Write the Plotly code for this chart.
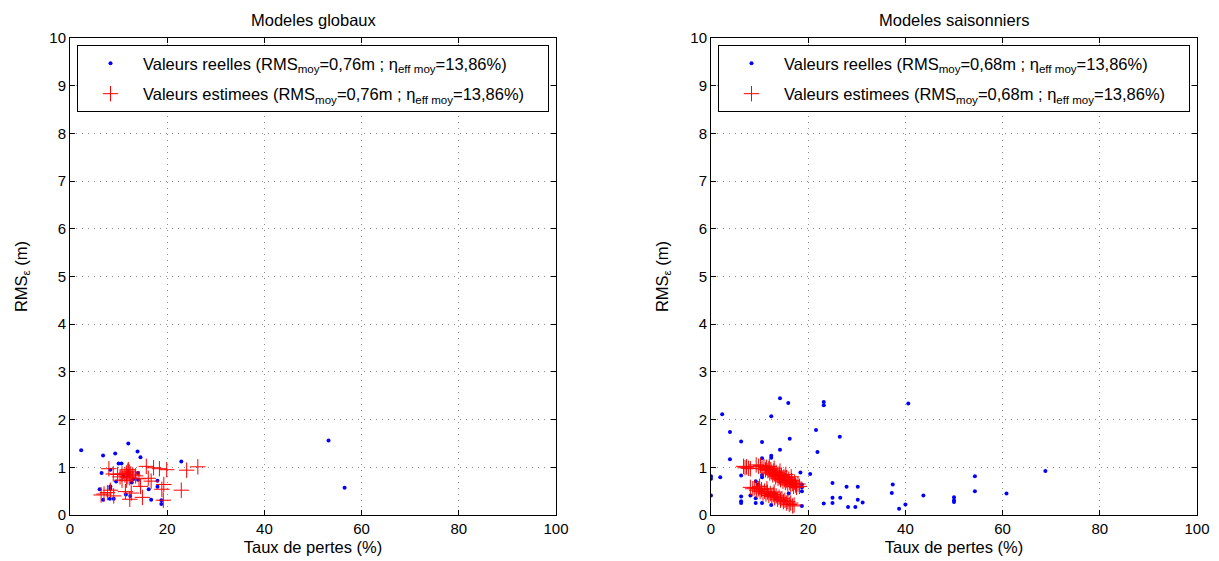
import plotly.graph_objects as go

# ---------------- data ----------------
# Left panel: "Modeles globaux"
reelles_glob = [
    (2.3, 1.36), (6.8, 1.25), (9.3, 1.29), (12.0, 1.50), (13.9, 1.33), (14.5, 1.21),
    (10.0, 1.08), (10.6, 1.08), (22.9, 1.12), (6.5, 0.88), (8.3, 0.95), (14.0, 0.88),
    (14.0, 0.74), (12.7, 0.68), (18.0, 0.72), (18.0, 0.59), (8.3, 0.60), (8.3, 0.55),
    (6.1, 0.54), (6.8, 0.32), (8.2, 0.34), (9.0, 0.34), (11.5, 0.43), (12.4, 0.40),
    (16.2, 0.54), (16.7, 0.32), (18.8, 0.31), (18.8, 0.23), (53.2, 1.56), (56.5, 0.57),
    (11.0, 0.80), (12.0, 0.85), (9.5, 0.70), (13.0, 0.75),
]
estimees_glob = [
    (8.0, 0.97), (8.9, 0.86), (9.8, 0.85), (10.3, 0.80), (10.7, 0.86), (11.3, 0.84),
    (11.6, 0.88), (11.9, 0.92), (12.2, 0.90), (12.5, 0.86), (12.9, 0.84), (11.9, 0.80),
    (11.6, 0.73), (10.7, 0.73), (12.0, 0.95), (12.3, 0.78), (13.5, 0.82), (14.2, 0.76),
    (15.7, 1.02), (17.2, 0.99), (18.4, 0.97), (19.9, 0.95), (24.0, 0.94), (26.3, 1.01),
    (16.1, 0.77), (16.7, 0.71), (14.5, 0.60), (19.3, 0.64), (18.9, 0.54), (22.9, 0.52),
    (11.4, 0.49), (12.6, 0.46), (8.3, 0.52), (7.7, 0.47), (7.0, 0.44), (6.4, 0.42),
    (12.3, 0.33), (14.9, 0.37), (19.2, 0.31), (9.0, 0.40),
]

# Right panel: "Modeles saisonniers"
reelles_sais = [
    (14.2, 2.45), (15.9, 2.35), (23.2, 2.37), (23.2, 2.30), (2.3, 2.11), (12.4, 2.07),
    (3.9, 1.74), (21.6, 1.78), (6.2, 1.54), (10.5, 1.53), (16.2, 1.60), (26.5, 1.64),
    (21.9, 1.32), (14.2, 1.37), (12.4, 1.24), (12.4, 1.20), (10.5, 1.19), (3.9, 1.17),
    (0.0, 0.81), (0.0, 0.76), (1.9, 0.79), (6.2, 0.83), (0.0, 0.41), (6.2, 0.39),
    (6.2, 0.29), (6.2, 0.25), (8.1, 0.41), (9.2, 0.35), (9.2, 0.25), (9.2, 0.71),
    (10.5, 0.84), (10.5, 0.79), (10.5, 0.25), (12.4, 0.21), (12.0, 0.45), (13.0, 0.45),
    (18.4, 0.89), (18.7, 0.64), (18.7, 0.58), (18.7, 0.50), (18.7, 0.19), (20.4, 0.86),
    (25.0, 0.67), (25.0, 0.36), (25.0, 0.25), (26.6, 0.36), (27.9, 0.59), (28.2, 0.17),
    (23.2, 0.24), (30.2, 0.59), (29.7, 0.17), (30.2, 0.32), (31.2, 0.26), (37.4, 0.64),
    (37.2, 0.46), (38.7, 0.13), (40.0, 0.22), (40.6, 2.34), (43.7, 0.41), (50.0, 0.37),
    (50.0, 0.31), (50.0, 0.27), (54.3, 0.81), (54.3, 0.50), (60.8, 0.45), (68.8, 0.92),
    (16.0, 0.45), (15.0, 0.30), (13.5, 0.35), (9.6, 0.64),
]
estimees_sais = [
    # group near 7 %
    (6.7, 1.02), (7.0, 0.99), (7.3, 1.01), (7.7, 0.98), (8.1, 0.97),
    # upper band
    (9.3, 1.05), (9.8, 1.02), (10.2, 1.04), (10.5, 0.98), (10.9, 1.01), (11.2, 0.95),
    (11.4, 1.00), (11.7, 0.93), (11.9, 0.97), (12.1, 0.88), (12.3, 0.95), (12.5, 0.90),
    (12.7, 0.84), (12.9, 0.92), (13.1, 0.86), (13.3, 0.80), (13.4, 0.89), (13.6, 0.83),
    (13.8, 0.77), (14.0, 0.86), (14.1, 0.80), (14.3, 0.74), (14.5, 0.83), (14.6, 0.77),
    (14.8, 0.71), (15.0, 0.80), (15.1, 0.74), (15.3, 0.68), (15.5, 0.78), (15.6, 0.72),
    (15.8, 0.65), (16.0, 0.75), (16.2, 0.69), (16.4, 0.63), (16.6, 0.72), (16.8, 0.66),
    (17.0, 0.60), (17.2, 0.69), (17.4, 0.63), (17.6, 0.58), (17.9, 0.65), (18.2, 0.60),
    (12.0, 1.02), (13.0, 0.98), (14.2, 0.92), (15.4, 0.85), (16.5, 0.80),
    # lower band
    (8.1, 0.58), (8.6, 0.55), (9.0, 0.57), (9.4, 0.52), (9.8, 0.55), (10.1, 0.49),
    (10.4, 0.53), (10.7, 0.46), (11.0, 0.50), (11.3, 0.44), (11.6, 0.48), (11.9, 0.41),
    (12.2, 0.45), (12.5, 0.39), (12.8, 0.43), (13.1, 0.36), (13.4, 0.40), (13.7, 0.33),
    (14.0, 0.37), (14.3, 0.31), (14.6, 0.34), (14.9, 0.28), (15.2, 0.31), (15.5, 0.25),
    (15.8, 0.28), (16.1, 0.22), (16.4, 0.25), (16.8, 0.19), (17.1, 0.21), (10.0, 0.60),
    (11.5, 0.55), (13.0, 0.48),
]

titles = ["Modeles globaux", "Modeles saisonniers"]
rms_moy = ["0,76", "0,68"]
eta_moy = "13,86"
x_label = "Taux de pertes (%)"
y_label = "RMS<sub>ε</sub> (m)"
x_ticks = [0, 20, 40, 60, 80, 100]
y_ticks = [0, 1, 2, 3, 4, 5, 6, 7, 8, 9, 10]

# ---------------- figure ----------------
W, H = 1219, 561
FONT = "Liberation Sans, Arial, Helvetica, sans-serif"
PAD = "\u00a0" * 4  # trailing room inside the legend box

fig = go.Figure()

panels = [(reelles_glob, estimees_glob), (reelles_sais, estimees_sais)]
for i, (reel, estim) in enumerate(panels):
    xa = "x" if i == 0 else "x2"
    ya = "y" if i == 0 else "y2"
    lg = "legend" if i == 0 else "legend2"
    fig.add_trace(go.Scatter(
        x=[p[0] for p in reel], y=[p[1] for p in reel],
        mode="markers", xaxis=xa, yaxis=ya, legend=lg, legendgroup=f"r{i}",
        name=f"Valeurs reelles (RMS<sub>moy</sub>={rms_moy[i]}m ; η<sub>eff moy</sub>={eta_moy}%){PAD}",
        marker=dict(symbol="circle", size=4, color="#0000ff", line=dict(width=0)),
    ))
    fig.add_trace(go.Scatter(
        x=[p[0] for p in estim], y=[p[1] for p in estim],
        mode="markers", xaxis=xa, yaxis=ya, legend=lg, legendgroup=f"e{i}",
        name=f"Valeurs estimees (RMS<sub>moy</sub>={rms_moy[i]}m ; η<sub>eff moy</sub>={eta_moy}%){PAD}",
        marker=dict(symbol="cross-thin", size=11, color="#ff0000",
                    line=dict(width=1, color="#ff0000")),
    ))

ydom = [1 - 515 / H, 1 - 38 / H]
xdoms = [[70 / W, 556 / W], [711 / W, 1197 / W]]

axis_common = dict(
    showline=True, linecolor="black", linewidth=1, mirror="ticks",
    ticks="inside", ticklen=5, tickcolor="black", tickwidth=1,
    showgrid=True, gridcolor="#8c8c8c", gridwidth=1, griddash="1px,5px",
    zeroline=False, tickfont=dict(size=15, color="black", family=FONT),
    automargin=False,
)

layout = dict(
    width=W, height=H,
    margin=dict(l=0, r=0, t=0, b=0),
    paper_bgcolor="white", plot_bgcolor="white",
    font=dict(family=FONT, color="black", size=15),
    showlegend=True,
)
for i in range(2):
    sfx = "" if i == 0 else "2"
    layout["xaxis" + sfx] = dict(
        axis_common, domain=xdoms[i], range=[0, 100], tickvals=x_ticks,
        anchor="y" + sfx,
        title=dict(text=x_label, font=dict(size=16.5), standoff=5),
    )
    layout["yaxis" + sfx] = dict(
        axis_common, domain=ydom, range=[0, 10], tickvals=y_ticks,
        anchor="x" + sfx,
        title=dict(text=y_label, font=dict(size=16.5), standoff=17),
    )
    layout["legend" if i == 0 else "legend2"] = dict(
        x=(77 if i == 0 else 718) / W, y=1 - 45 / H,
        xanchor="left", yanchor="top",
        bgcolor="white", bordercolor="black", borderwidth=1,
        font=dict(size=16.5, family=FONT, color="black"),
        tracegroupgap=6, itemwidth=55,
    )

fig.update_layout(**layout)

for i in range(2):
    fig.add_annotation(
        text=titles[i], xref="paper", yref="paper",
        x=(xdoms[i][0] + xdoms[i][1]) / 2, y=1 - 20 / H,
        xanchor="center", yanchor="middle", showarrow=False,
        font=dict(size=16.5, family=FONT, color="black"),
    )

fig.write_html("out.html", config={"displayModeBar": False})

# remove the default page margin so the figure sits at the window origin
with open("out.html", "r", encoding="utf-8") as f:
    html = f.read()
html = html.replace("<body>", '<body style="margin:0;padding:0">', 1)
with open("out.html", "w", encoding="utf-8") as f:
    f.write(html)
